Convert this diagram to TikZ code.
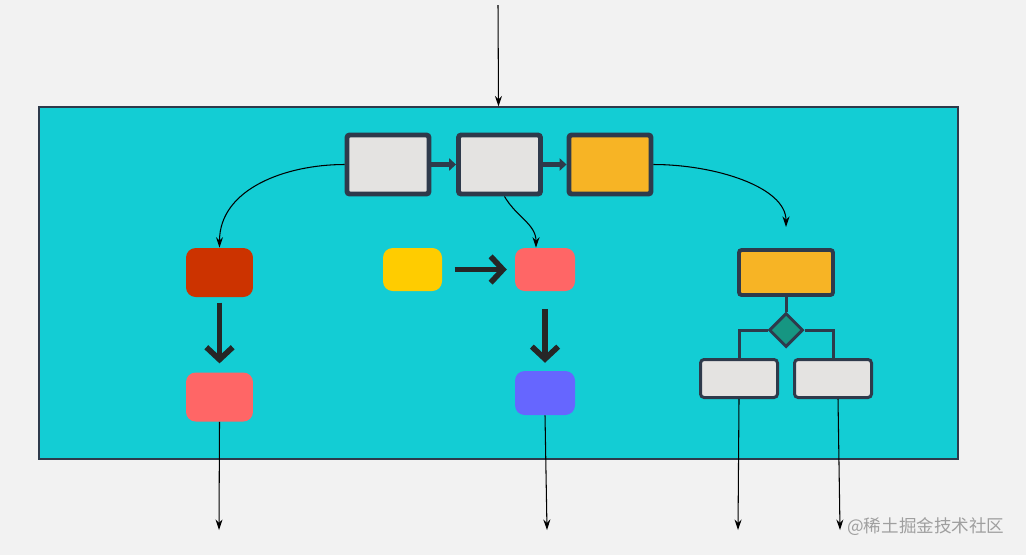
\documentclass[tikz,border=0pt]{standalone}
\usepackage{fontspec}
\newfontfamily\cjkfont{Noto Sans CJK SC}
\usepackage{tikz}
\usetikzlibrary{arrows.meta,shapes.geometric}
\definecolor{pagebg}{RGB}{242,242,242}
\definecolor{aqua}{RGB}{19,205,212}
\definecolor{slate}{RGB}{46,58,75}
\definecolor{paper}{RGB}{228,227,225}
\definecolor{amber}{RGB}{247,180,37}
\definecolor{brick}{RGB}{204,51,0}
\definecolor{salmon}{RGB}{255,102,102}
\definecolor{lemon}{RGB}{255,204,0}
\definecolor{violet}{RGB}{102,102,255}
\definecolor{jade}{RGB}{22,150,130}
\tikzset{
  panel/.style={draw=slate,fill=aqua,line width=0.7pt,minimum width=18.38cm,minimum height=7.04cm,inner sep=0pt},
  stage/.style={draw=slate,line width=2.8pt,rounded corners=1.5pt,minimum width=1.64cm,minimum height=1.18cm,inner sep=0pt},
  tile/.style={rounded corners=5.5pt,minimum width=1.34cm,minimum height=0.98cm,inner sep=0pt},
  leaf/.style={draw=slate,line width=1.7pt,fill=paper,rounded corners=2pt,minimum width=1.54cm,minimum height=0.76cm,inner sep=0pt},
  thin/.style={-{Stealth[length=6pt,width=4pt]},line width=0.6pt},
  bold/.style={-{Straight Barb[length=7pt,width=15pt,line width=3.2pt]},line width=3.4pt,draw=black!85},
  link/.style={-{Triangle[length=4pt,width=7pt]},line width=2.8pt,draw=slate},
  branch/.style={line width=1.7pt,draw=slate},
}
\begin{document}
\begin{tikzpicture}[x=0.02cm,y=0.02cm]
  \fill[pagebg] (0,0) rectangle (1026,-555);
  \useasboundingbox (0,0) rectangle (1026,-555);
  \node[panel] (box) at (498.5,-283) {};
  \coordinate (src) at (498,-5);
  \draw[thin] (src) -- (box.north);
  % top row
  \node[stage,fill=paper] (s1) at (388,-164.5) {};
  \node[stage,fill=paper] (s2) at (499.5,-164.5) {};
  \node[stage,fill=amber] (s3) at (610,-164.5) {};
  \draw[link] (s1.east) -- (s2.west);
  \draw[link] (s2.east) -- (s3.west);
  % left column
  \node[tile,fill=brick] (red) at (219.5,-272.5) {};
  \node[tile,fill=salmon] (pink) at (219.5,-397) {};
  \draw[bold,shorten <=3pt,shorten >=5pt] (red) -- (pink);
  % middle column
  \node[tile,fill=lemon,minimum width=1.18cm,minimum height=0.86cm] (yel) at (412.5,-269.5) {};
  \node[tile,fill=salmon,minimum width=1.2cm,minimum height=0.86cm] (rose) at (545,-269.5) {};
  \node[tile,fill=violet,minimum width=1.2cm,minimum height=0.88cm] (blue) at (545,-393) {};
  \draw[bold,shorten <=7pt,shorten >=4.5pt] (yel) -- (rose);
  \draw[bold,shorten <=10pt,shorten >=4.5pt] (rose) -- (blue);
  % right tree
  \node[stage,fill=amber,line width=2.2pt,minimum width=1.88cm,minimum height=0.9cm] (top) at (786,-272.5) {};
  \node[diamond,aspect=1,draw=slate,line width=1.7pt,fill=jade,minimum width=0.68cm,minimum height=0.68cm,inner sep=0pt] (dec) at (786,-330) {};
  \node[leaf] (lb) at (739,-378.5) {};
  \node[leaf] (rb) at (833,-378.5) {};
  \draw[branch] (top.south) -- (dec.north);
  \draw[branch] (dec.west) -| (lb.north);
  \draw[branch] (dec.east) -| (rb.north);
  % curved links
  \draw[thin] (s1.west) to[out=180,in=90] (red.north);
  \draw[thin] ([xshift=0.1cm]s2.south) to[out=-60,in=90] ([xshift=-0.18cm]rose.north);
  \draw[thin,shorten >=12pt] (s3.east) to[out=0,in=90] (top.north);
  % outputs
  \coordinate (o1) at (219,-530);
  \coordinate (o2) at (547,-530);
  \coordinate (o3) at (738,-530);
  \coordinate (o4) at (840,-530);
  \draw[thin] (pink.south) -- (o1);
  \draw[thin] (blue.south) -- (o2);
  \draw[thin] (lb.south) -- (o3);
  \draw[thin] ([xshift=0.1cm]rb.south) -- (o4);
  \node[anchor=west,inner sep=0pt,text=gray!75,font=\cjkfont\fontsize{10pt}{12pt}\selectfont] (mark) at (847,-527) {@稀土掘金技术社区};
\end{tikzpicture}
\end{document}
